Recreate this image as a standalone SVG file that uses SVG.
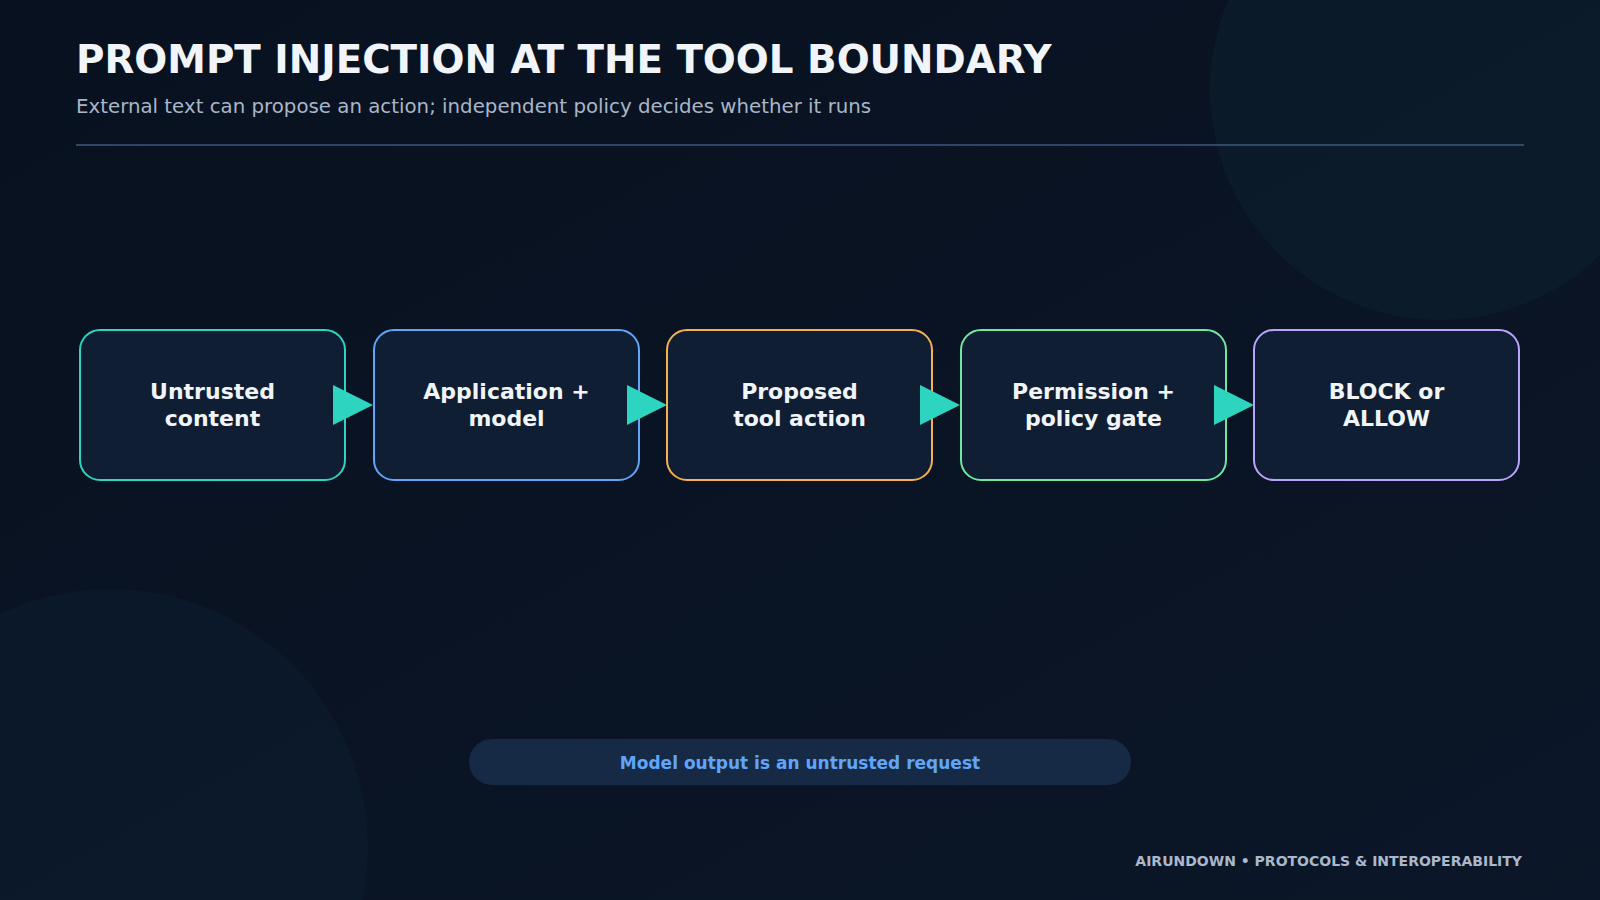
<svg xmlns="http://www.w3.org/2000/svg" width="1600" height="900" viewBox="0 0 1600 900">
<defs>
<linearGradient id="bg" x1="0" y1="0" x2="1" y2="1">
<stop offset="0" stop-color="#08111f"/><stop offset="1" stop-color="#0b1628"/>
</linearGradient>
<style>
.box{fill:#0f1e33;stroke-width:2}
.lbl{font-family:"DejaVu Sans",sans-serif;font-weight:bold;font-size:22px;fill:#f1f5f9;text-anchor:middle}
.arr{fill:#2dd4bf}
</style>
</defs>
<rect width="1600" height="900" fill="url(#bg)"/>
<circle cx="1440" cy="90" r="230" fill="#0c1d2b" opacity="0.8"/>
<circle cx="110" cy="847" r="258" fill="#0c1a2c" opacity="0.8"/>
<text x="76" y="73" font-family="DejaVu Sans,sans-serif" font-weight="bold" font-size="38.8" fill="#f1f5f9">PROMPT INJECTION AT THE TOOL BOUNDARY</text>
<text x="76" y="113" font-family="DejaVu Sans,sans-serif" font-size="19.8" fill="#a8b6c8">External text can propose an action; independent policy decides whether it runs</text>
<line x1="76" y1="145" x2="1524" y2="145" stroke="#3b5a7e" stroke-width="1.5"/>
<g id="n1"><rect class="box" x="80" y="330" width="265" height="150" rx="20" stroke="#2dd4bf"/><text class="lbl" x="212.5" y="399">Untrusted</text><text class="lbl" x="212.5" y="426">content</text></g>
<g id="n2"><rect class="box" x="374" y="330" width="265" height="150" rx="20" stroke="#60a5fa"/><text class="lbl" x="506.5" y="399">Application +</text><text class="lbl" x="506.5" y="426">model</text></g>
<g id="n3"><rect class="box" x="667" y="330" width="265" height="150" rx="20" stroke="#f6b04d"/><text class="lbl" x="799.5" y="399">Proposed</text><text class="lbl" x="799.5" y="426">tool action</text></g>
<g id="n4"><rect class="box" x="961" y="330" width="265" height="150" rx="20" stroke="#6ee7a0"/><text class="lbl" x="1093.5" y="399">Permission +</text><text class="lbl" x="1093.5" y="426">policy gate</text></g>
<g id="n5"><rect class="box" x="1254" y="330" width="265" height="150" rx="20" stroke="#b9a4fb"/><text class="lbl" x="1386.5" y="399">BLOCK or</text><text class="lbl" x="1386.5" y="426">ALLOW</text></g>
<g id="connectors">
<polygon class="arr" points="333,385 373,405 333,425"/>
<polygon class="arr" points="627,385 667,405 627,425"/>
<polygon class="arr" points="920,385 960,405 920,425"/>
<polygon class="arr" points="1214,385 1254,405 1214,425"/>
</g>
<g id="note"><rect x="469" y="739" width="662" height="46" rx="23" fill="#172a45"/>
<text x="800" y="769" text-anchor="middle" font-family="DejaVu Sans,sans-serif" font-weight="bold" font-size="17" fill="#60a5fa">Model output is an untrusted request</text></g>
<text x="1522" y="866" text-anchor="end" font-family="DejaVu Sans,sans-serif" font-weight="bold" font-size="14" fill="#aab8cc">AIRUNDOWN • PROTOCOLS &amp; INTEROPERABILITY</text>
</svg>
